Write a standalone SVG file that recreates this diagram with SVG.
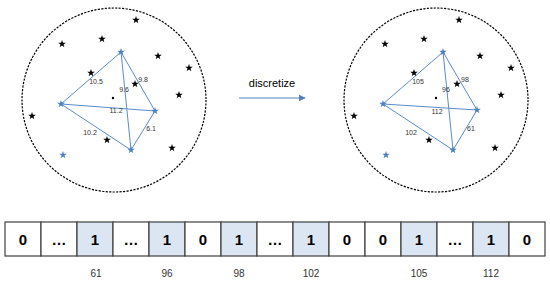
<svg xmlns="http://www.w3.org/2000/svg" xmlns:xlink="http://www.w3.org/1999/xlink" width="550" height="282" viewBox="0 0 550 282">
<style>
.circ{fill:none;stroke:#000;stroke-width:1.2;stroke-dasharray:2.2 1.3}
.edge{fill:none;stroke:#5a8ccc;stroke-width:1}
.lbl{font-family:"Liberation Sans",Arial,sans-serif;font-size:7px;fill:#333;text-anchor:middle;dominant-baseline:central}
.bs{fill:#000}
.us{fill:#4f81bd}
.cell{fill:#fff;stroke:#404040;stroke-width:1.2}
.hl{fill:#dce6f2}
.ct{font-family:"Liberation Sans",Arial,sans-serif;font-size:15px;font-weight:bold;fill:#000;text-anchor:middle;dominant-baseline:central}
.idx{font-family:"Liberation Sans",Arial,sans-serif;font-size:10px;fill:#333;text-anchor:middle;dominant-baseline:central}
.arrtxt{font-family:"Liberation Sans",Arial,sans-serif;font-size:11px;fill:#000;text-anchor:middle;dominant-baseline:central}
</style>
<defs>
<path id="star" d="M0,-4 L0.94,-1.29 L3.8,-1.24 L1.52,0.49 L2.35,3.24 L0,1.6 L-2.35,3.24 L-1.52,0.49 L-3.8,-1.24 L-0.94,-1.29 Z"/>
<marker id="ah" viewBox="0 0 10 10" refX="9" refY="5" markerWidth="7" markerHeight="7" orient="auto" markerUnits="userSpaceOnUse">
<path d="M0,0 L10,5 L0,10 Z" fill="#4f81bd"/>
</marker>
</defs>
<rect width="550" height="282" fill="#fff"/>

<g id="left-cloud">
<circle class="circ" cx="114" cy="100" r="92"/>
<g id="left-edges">
<line class="edge" x1="121" y1="52" x2="61" y2="104"/>
<line class="edge" x1="121" y1="52" x2="155" y2="111"/>
<line class="edge" x1="121" y1="52" x2="131" y2="150"/>
<line class="edge" x1="61" y1="104" x2="155" y2="111"/>
<line class="edge" x1="61" y1="104" x2="131" y2="150"/>
<line class="edge" x1="155" y1="111" x2="131" y2="150"/>
</g>
<g class="bs">
<use href="#star" x="136" y="20"/><use href="#star" x="62" y="44"/><use href="#star" x="102" y="39"/>
<use href="#star" x="158" y="56"/><use href="#star" x="189" y="68"/><use href="#star" x="91" y="73"/>
<use href="#star" x="135" y="84"/><use href="#star" x="179" y="95"/><use href="#star" x="32" y="116"/>
<use href="#star" x="107" y="140"/><use href="#star" x="172" y="148"/>
</g>
<g class="us">
<use href="#star" x="121" y="52"/><use href="#star" x="61" y="104"/><use href="#star" x="155" y="111"/>
<use href="#star" x="131" y="150"/><use href="#star" x="63" y="155"/>
</g>
<circle cx="113" cy="98" r="1.2" fill="#000"/>
<text class="lbl" x="96" y="81">10.5</text>
<text class="lbl" x="143" y="79">9.8</text>
<text class="lbl" x="124" y="89">9.6</text>
<text class="lbl" x="116" y="110">11.2</text>
<text class="lbl" x="90" y="132">10.2</text>
<text class="lbl" x="151" y="128">6.1</text>
</g>

<g id="right-cloud">
<circle class="circ" cx="436" cy="100" r="92"/>
<g id="right-edges">
<line class="edge" x1="443" y1="52" x2="383" y2="104"/>
<line class="edge" x1="443" y1="52" x2="477" y2="110"/>
<line class="edge" x1="443" y1="52" x2="453" y2="150"/>
<line class="edge" x1="383" y1="104" x2="477" y2="110"/>
<line class="edge" x1="383" y1="104" x2="453" y2="150"/>
<line class="edge" x1="477" y1="110" x2="453" y2="150"/>
</g>
<g class="bs">
<use href="#star" x="459" y="20"/><use href="#star" x="385" y="44"/><use href="#star" x="424" y="39"/>
<use href="#star" x="480" y="56"/><use href="#star" x="511" y="68"/><use href="#star" x="414" y="73"/>
<use href="#star" x="457" y="84"/><use href="#star" x="501" y="95"/><use href="#star" x="354" y="116"/>
<use href="#star" x="429" y="140"/><use href="#star" x="495" y="148"/>
</g>
<g class="us">
<use href="#star" x="443" y="52"/><use href="#star" x="383" y="104"/><use href="#star" x="477" y="110"/>
<use href="#star" x="453" y="150"/><use href="#star" x="386" y="155"/>
</g>
<circle cx="436" cy="98" r="1.2" fill="#000"/>
<text class="lbl" x="418" y="81">105</text>
<text class="lbl" x="465" y="79">98</text>
<text class="lbl" x="446" y="89">96</text>
<text class="lbl" x="437" y="111">112</text>
<text class="lbl" x="411" y="132">102</text>
<text class="lbl" x="471" y="128">61</text>
</g>

<g id="discretize">
<text class="arrtxt" x="272" y="83">discretize</text>
<line x1="239" y1="98" x2="305" y2="98" stroke="#4f81bd" stroke-width="1.2" marker-end="url(#ah)"/>
</g>

<g id="array">
<rect class="cell" x="5" y="222" width="36" height="34"/>
<rect class="cell" x="41" y="222" width="36" height="34"/>
<rect class="cell hl" x="77" y="222" width="36" height="34"/>
<rect class="cell" x="113" y="222" width="36" height="34"/>
<rect class="cell hl" x="149" y="222" width="36" height="34"/>
<rect class="cell" x="185" y="222" width="36" height="34"/>
<rect class="cell hl" x="221" y="222" width="36" height="34"/>
<rect class="cell" x="257" y="222" width="36" height="34"/>
<rect class="cell hl" x="293" y="222" width="36" height="34"/>
<rect class="cell" x="329" y="222" width="36" height="34"/>
<rect class="cell" x="365" y="222" width="36" height="34"/>
<rect class="cell hl" x="401" y="222" width="36" height="34"/>
<rect class="cell" x="437" y="222" width="36" height="34"/>
<rect class="cell hl" x="473" y="222" width="36" height="34"/>
<rect class="cell" x="509" y="222" width="36" height="34"/>
<text class="ct" x="23" y="239">0</text>
<text class="ct" x="59" y="239">…</text>
<text class="ct" x="95" y="239">1</text>
<text class="ct" x="131" y="239">…</text>
<text class="ct" x="167" y="239">1</text>
<text class="ct" x="203" y="239">0</text>
<text class="ct" x="239" y="239">1</text>
<text class="ct" x="275" y="239">…</text>
<text class="ct" x="311" y="239">1</text>
<text class="ct" x="347" y="239">0</text>
<text class="ct" x="383" y="239">0</text>
<text class="ct" x="419" y="239">1</text>
<text class="ct" x="455" y="239">…</text>
<text class="ct" x="491" y="239">1</text>
<text class="ct" x="527" y="239">0</text>
<text class="idx" x="96" y="273">61</text>
<text class="idx" x="167" y="273">96</text>
<text class="idx" x="239" y="273">98</text>
<text class="idx" x="311" y="273">102</text>
<text class="idx" x="419" y="273">105</text>
<text class="idx" x="491" y="273">112</text>
</g>
</svg>
